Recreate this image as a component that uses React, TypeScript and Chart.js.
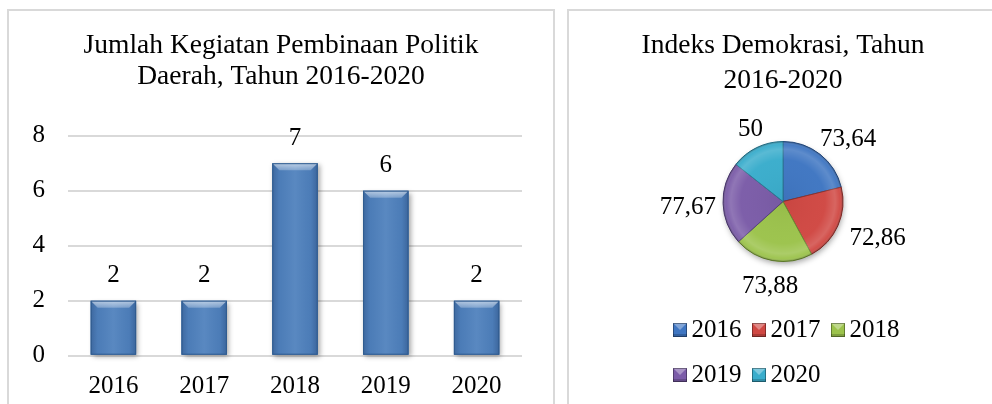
import React, { useEffect, useRef } from 'react';
import { Chart, registerables } from 'chart.js';

Chart.register(...registerables);

const FONT = "'Liberation Serif', 'Times New Roman', Times, serif";

// ---- Bar chart data ----
const barTitle = ['Jumlah Kegiatan Pembinaan Politik', 'Daerah, Tahun 2016-2020'];
const barCategories = ['2016', '2017', '2018', '2019', '2020'];
const barValues = [2, 2, 7, 6, 2];
const yMin = 0;
const yMax = 8;
const yStep = 2;

// ---- Pie chart data ----
const pieTitle = ['Indeks Demokrasi, Tahun', '2016-2020'];
const pieLabels = ['2016', '2017', '2018', '2019', '2020'];
const pieValues = [73.64, 72.86, 73.88, 77.67, 50];
const pieColors = ['#3f76c2', '#d04843', '#9cc34c', '#7b5ca8', '#3aadcc'];
const pieBorders = ['#27508a', '#8e2f2b', '#6b8a32', '#54407a', '#2a7d96'];

const fmt = (v: number) => String(v).replace('.', ',');

const barDecor = {
  id: 'barDecor',
  beforeDatasetsDraw(chart: any) {
    const ctx = chart.ctx;
    const meta = chart.getDatasetMeta(0);
    ctx.save();
    ctx.shadowColor = 'rgba(0,0,0,0.35)';
    ctx.shadowBlur = 5;
    ctx.shadowOffsetX = 2;
    ctx.shadowOffsetY = 2;
    ctx.fillStyle = '#4f81bd';
    meta.data.forEach((bar: any) => {
      const { x, y, base, width } = bar.getProps(['x', 'y', 'base', 'width'], true);
      ctx.fillRect(x - width / 2, y, width, base - y);
    });
    ctx.restore();
  },
  afterDatasetsDraw(chart: any) {
    const ctx = chart.ctx;
    const meta = chart.getDatasetMeta(0);
    const values = chart.data.datasets[0].data;
    meta.data.forEach((bar: any, i: number) => {
      const { x, y, base, width } = bar.getProps(['x', 'y', 'base', 'width'], true);
      const x0 = x - width / 2;
      const x1 = x + width / 2;
      const b = 7;
      ctx.save();
      const hg = ctx.createLinearGradient(x0, 0, x1, 0);
      hg.addColorStop(0, 'rgba(10,30,70,0.25)');
      hg.addColorStop(0.15, 'rgba(10,30,70,0.05)');
      hg.addColorStop(0.5, 'rgba(255,255,255,0.06)');
      hg.addColorStop(0.85, 'rgba(10,30,70,0.05)');
      hg.addColorStop(1, 'rgba(10,30,70,0.28)');
      ctx.fillStyle = hg;
      ctx.fillRect(x0, y, width, base - y);
      const tg = ctx.createLinearGradient(0, y, 0, y + b);
      tg.addColorStop(0, 'rgba(255,255,255,0.6)');
      tg.addColorStop(1, 'rgba(255,255,255,0.25)');
      ctx.fillStyle = tg;
      ctx.beginPath();
      ctx.moveTo(x0, y);
      ctx.lineTo(x1, y);
      ctx.lineTo(x1 - b, y + b);
      ctx.lineTo(x0 + b, y + b);
      ctx.closePath();
      ctx.fill();
      ctx.strokeStyle = '#2f5b8e';
      ctx.lineWidth = 1;
      ctx.strokeRect(x0 + 0.5, y + 0.5, width - 1, base - y - 1);
      ctx.restore();
      ctx.save();
      ctx.font = `25px ${FONT}`;
      ctx.fillStyle = '#000';
      ctx.textAlign = 'center';
      ctx.textBaseline = 'middle';
      ctx.fillText(String(values[i]), x, y - 25);
      ctx.restore();
    });
  },
};

const pieDecor = {
  id: 'pieDecor',
  beforeDatasetsDraw(chart: any) {
    const ctx = chart.ctx;
    const arc = chart.getDatasetMeta(0).data[0];
    const { x, y, outerRadius } = arc.getProps(['x', 'y', 'outerRadius'], true);
    ctx.save();
    ctx.shadowColor = 'rgba(0,0,0,0.4)';
    ctx.shadowBlur = 6;
    ctx.shadowOffsetX = 1;
    ctx.shadowOffsetY = 3;
    ctx.fillStyle = '#777';
    ctx.beginPath();
    ctx.arc(x, y, outerRadius - 1, 0, Math.PI * 2);
    ctx.fill();
    ctx.restore();
  },
  afterDatasetsDraw(chart: any) {
    const ctx = chart.ctx;
    const meta = chart.getDatasetMeta(0);
    const values = chart.data.datasets[0].data;
    const labels = chart.data.labels;
    const colors = chart.data.datasets[0].backgroundColor;
    const first = meta.data[0];
    const { x: cx, y: cy, outerRadius: R } = first.getProps(['x', 'y', 'outerRadius'], true);

    ctx.save();
    const g = ctx.createRadialGradient(cx, cy, 0, cx, cy, R);
    g.addColorStop(0, 'rgba(0,0,0,0.04)');
    g.addColorStop(0.7, 'rgba(255,255,255,0.02)');
    g.addColorStop(0.87, 'rgba(255,255,255,0.16)');
    g.addColorStop(0.95, 'rgba(255,255,255,0.04)');
    g.addColorStop(1, 'rgba(0,0,0,0.28)');
    ctx.fillStyle = g;
    ctx.beginPath();
    ctx.arc(cx, cy, R, 0, Math.PI * 2);
    ctx.fill();
    ctx.restore();

    // value labels, outside end
    ctx.save();
    ctx.font = `25px ${FONT}`;
    ctx.fillStyle = '#000';
    ctx.textAlign = 'center';
    ctx.textBaseline = 'middle';
    const gap = 11;
    const h = 24;
    meta.data.forEach((arc: any, i: number) => {
      const { startAngle, endAngle } = arc.getProps(['startAngle', 'endAngle'], true);
      const mid = (startAngle + endAngle) / 2;
      const dx = Math.cos(mid);
      const dy = Math.sin(mid);
      const text = fmt(values[i]);
      const w = ctx.measureText(text).width;
      const lx = cx + (R + gap) * dx + (dx * w) / 2 + 4;
      const ly = cy + (R + gap) * dy + (dy * h) / 2 + 3;
      ctx.fillText(text, lx, ly);
    });
    ctx.restore();

    // legend (rows left-aligned, block centered)
    ctx.save();
    ctx.font = `25px ${FONT}`;
    const box = 14;
    const boxGap = 5;
    const itemGap = 10;
    const maxRow = 250;
    const rows: { i: number; w: number }[][] = [[]];
    const rowW: number[] = [0];
    labels.forEach((lab: string, i: number) => {
      const w = box + boxGap + ctx.measureText(lab).width;
      let r = rows.length - 1;
      const add = rows[r].length ? itemGap + w : w;
      if (rows[r].length && rowW[r] + add > maxRow) {
        rows.push([]);
        rowW.push(0);
        r++;
        rows[r].push({ i, w });
        rowW[r] = w;
      } else {
        rows[r].push({ i, w });
        rowW[r] += add;
      }
    });
    const blockW = Math.max(...rowW);
    const left = cx - blockW / 2 + 3;
    const row0 = chart.chartArea.bottom + 58;
    const rowStep = 45;
    rows.forEach((row, r) => {
      let px = left;
      const py = row0 + r * rowStep;
      row.forEach(({ i, w }) => {
        const col = colors[i];
        const bx = Math.round(px);
        const by = Math.round(py - box / 2);
        ctx.fillStyle = col;
        ctx.fillRect(bx, by, box, box);
        ctx.fillStyle = 'rgba(255,255,255,0.35)';
        ctx.beginPath();
        ctx.moveTo(bx, by);
        ctx.lineTo(bx + box, by);
        ctx.lineTo(bx + box / 2, by + box / 2);
        ctx.closePath();
        ctx.fill();
        ctx.fillStyle = 'rgba(0,0,0,0.18)';
        ctx.fillRect(bx, by + box - 3, box, 3);
        ctx.strokeStyle = 'rgba(0,0,0,0.35)';
        ctx.lineWidth = 1;
        ctx.strokeRect(bx + 0.5, by + 0.5, box - 1, box - 1);
        ctx.fillStyle = '#000';
        ctx.textAlign = 'left';
        ctx.textBaseline = 'middle';
        ctx.fillText(labels[i], px + box + boxGap, py);
        px += w + itemGap;
      });
    });
    ctx.restore();
  },
};

export default function App() {
  const barRef = useRef<HTMLCanvasElement>(null);
  const pieRef = useRef<HTMLCanvasElement>(null);

  useEffect(() => {
    const bar = new Chart(barRef.current as HTMLCanvasElement, {
      type: 'bar',
      data: {
        labels: barCategories,
        datasets: [
          {
            data: barValues,
            backgroundColor: '#4f81bd',
            borderWidth: 0,
            barPercentage: 0.5,
            categoryPercentage: 1,
          },
        ],
      },
      options: {
        responsive: false,
        animation: false,
        devicePixelRatio: 1,
        layout: { padding: { left: 0, right: 0, top: 0, bottom: 0 } },
        plugins: {
          legend: { display: false },
          tooltip: { enabled: false },
          title: {
            display: true,
            text: barTitle,
            color: '#000',
            font: { family: FONT, size: 27.5, weight: 'normal', lineHeight: 31 / 27.5 },
            padding: { top: 19.1, bottom: 43.6 },
          },
        },
        scales: {
          x: {
            grid: { display: false, drawTicks: false },
            border: { display: false },
            ticks: { color: '#000', font: { family: FONT, size: 25 }, padding: 16 },
            afterFit: (s: any) => {
              s.height = 48.3;
            },
          },
          y: {
            min: yMin,
            max: yMax,
            ticks: { stepSize: yStep, color: '#000', font: { family: FONT, size: 25 }, padding: 23 },
            grid: { color: '#d9d9d9', lineWidth: 2, drawTicks: false },
            border: { display: false },
            afterFit: (s: any) => {
              s.width = 59;
            },
          },
          yRight: {
            position: 'right',
            display: true,
            grid: { display: false, drawTicks: false },
            ticks: { display: false },
            border: { display: false },
            afterFit: (s: any) => {
              s.width = 31;
            },
          },
        },
      },
      plugins: [barDecor],
    } as any);

    const pie = new Chart(pieRef.current as HTMLCanvasElement, {
      type: 'pie',
      data: {
        labels: pieLabels,
        datasets: [
          {
            data: pieValues,
            backgroundColor: pieColors,
            borderColor: pieBorders,
            borderWidth: 1,
            radius: 60,
          },
        ],
      },
      options: {
        responsive: false,
        animation: false,
        devicePixelRatio: 1,
        layout: { padding: { left: 0, right: 0, top: 0, bottom: 132 } },
        plugins: {
          legend: { display: false },
          tooltip: { enabled: false },
          title: {
            display: true,
            text: pieTitle,
            color: '#000',
            font: { family: FONT, size: 27.5, weight: 'normal', lineHeight: 35 / 27.5 },
            padding: { top: 17.6, bottom: 32.4 },
          },
        },
      },
      plugins: [pieDecor],
    } as any);

    return () => {
      bar.destroy();
      pie.destroy();
    };
  }, []);

  return (
    <div
      style={{
        position: 'absolute',
        left: 0,
        top: 0,
        width: 992,
        height: 404,
        overflow: 'hidden',
        background: '#fff',
      }}
    >
      <div
        style={{
          position: 'absolute',
          left: 7,
          top: 9,
          width: 548,
          height: 420,
          border: '2px solid #d9d9d9',
          boxSizing: 'border-box',
        }}
      />
      <div
        style={{
          position: 'absolute',
          left: 567,
          top: 9,
          width: 440,
          height: 420,
          border: '2px solid #d9d9d9',
          boxSizing: 'border-box',
        }}
      />
      <canvas
        ref={barRef}
        width={544}
        height={393}
        style={{ position: 'absolute', left: 9, top: 11, width: 544, height: 393 }}
      />
      <canvas
        ref={pieRef}
        width={428}
        height={393}
        style={{ position: 'absolute', left: 569, top: 11, width: 428, height: 393 }}
      />
    </div>
  );
}
